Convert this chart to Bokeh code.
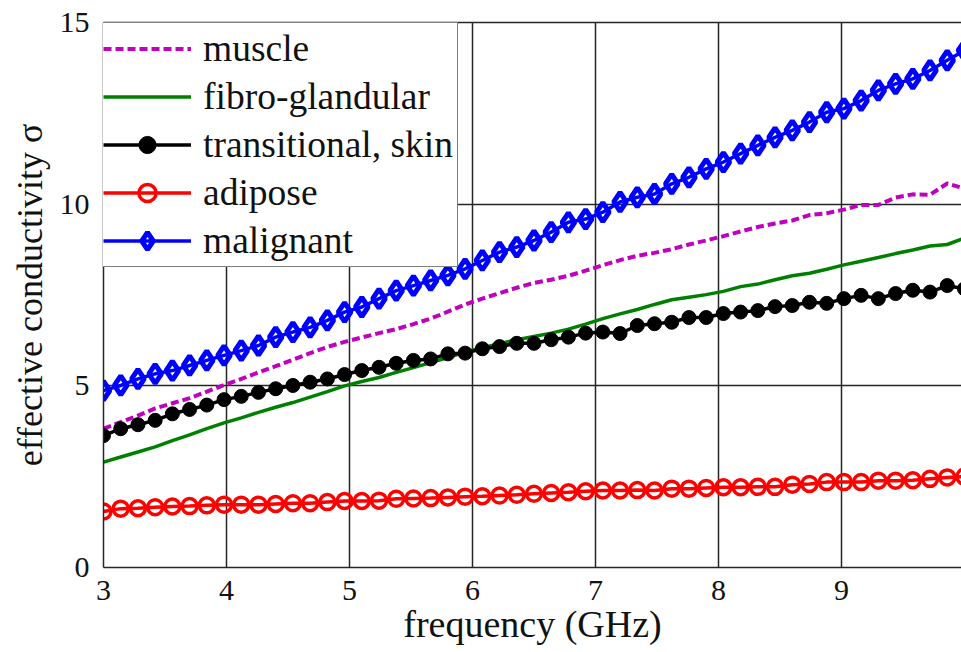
from bokeh.plotting import figure
from bokeh.models import Range1d, LinearAxis, Legend, LegendItem, FixedTicker
from bokeh.embed import file_html
from bokeh.resources import INLINE

# ---- data ----
freq = [3.00, 3.14, 3.28, 3.42, 3.56, 3.70, 3.84, 3.98, 4.12, 4.26,
        4.40, 4.54, 4.68, 4.82, 4.96, 5.10, 5.24, 5.38, 5.52, 5.66,
        5.80, 5.94, 6.08, 6.22, 6.36, 6.50, 6.64, 6.78, 6.92, 7.06,
        7.20, 7.34, 7.48, 7.62, 7.76, 7.90, 8.04, 8.18, 8.32, 8.46,
        8.60, 8.74, 8.88, 9.02, 9.16, 9.30, 9.44, 9.58, 9.72, 9.86, 10.00]

muscle = [3.82, 4.00, 4.18, 4.38, 4.52, 4.66, 4.84, 5.02, 5.19, 5.37,
          5.54, 5.72, 5.90, 6.07, 6.21, 6.33, 6.45, 6.56, 6.70, 6.85,
          7.04, 7.24, 7.40, 7.55, 7.70, 7.83, 7.92, 8.03, 8.17, 8.32,
          8.46, 8.58, 8.66, 8.76, 8.89, 9.00, 9.12, 9.25, 9.37, 9.47,
          9.55, 9.70, 9.75, 9.85, 9.98, 9.98, 10.18, 10.27, 10.26, 10.57, 10.43]

fibro = [2.90, 3.04, 3.18, 3.32, 3.49, 3.65, 3.82, 3.98, 4.12, 4.27,
         4.41, 4.54, 4.69, 4.84, 5.00, 5.12, 5.23, 5.37, 5.50, 5.64,
         5.78, 5.93, 6.05, 6.16, 6.27, 6.36, 6.45, 6.56, 6.70, 6.85,
         6.98, 7.10, 7.24, 7.37, 7.44, 7.51, 7.60, 7.73, 7.80, 7.92,
         8.03, 8.10, 8.21, 8.33, 8.43, 8.53, 8.64, 8.74, 8.85, 8.89, 9.07]

transitional = [3.63, 3.82, 3.93, 4.05, 4.23, 4.35, 4.47, 4.62, 4.71, 4.82,
                4.92, 5.01, 5.10, 5.19, 5.31, 5.42, 5.51, 5.62, 5.70, 5.74,
                5.88, 5.90, 6.02, 6.08, 6.17, 6.17, 6.27, 6.34, 6.45, 6.48,
                6.44, 6.66, 6.71, 6.75, 6.88, 6.88, 6.99, 7.03, 7.07, 7.18,
                7.21, 7.30, 7.27, 7.40, 7.49, 7.40, 7.54, 7.63, 7.58, 7.76, 7.67]

adipose = [1.54, 1.62, 1.63, 1.66, 1.68, 1.69, 1.71, 1.73, 1.73, 1.73,
           1.75, 1.77, 1.77, 1.80, 1.83, 1.83, 1.84, 1.89, 1.90, 1.91,
           1.93, 1.95, 1.96, 1.98, 2.00, 2.03, 2.05, 2.07, 2.10, 2.12,
           2.12, 2.13, 2.12, 2.17, 2.17, 2.19, 2.21, 2.21, 2.22, 2.22,
           2.28, 2.30, 2.35, 2.35, 2.35, 2.39, 2.39, 2.40, 2.44, 2.48, 2.50]

malignant = [4.87, 5.01, 5.19, 5.33, 5.42, 5.56, 5.70, 5.84, 5.97, 6.11,
             6.34, 6.48, 6.61, 6.80, 7.03, 7.17, 7.40, 7.62, 7.76, 7.90,
             8.04, 8.22, 8.45, 8.68, 8.82, 9.00, 9.23, 9.50, 9.59, 9.78,
             10.06, 10.19, 10.28, 10.56, 10.74, 10.97, 11.16, 11.39, 11.62, 11.84,
             12.03, 12.26, 12.53, 12.63, 12.85, 13.13, 13.31, 13.45, 13.68, 13.96, 14.23]

x_ticks = [3, 4, 5, 6, 7, 8, 9, 10]
y_ticks = [0, 5, 10, 15]

FONT = "Liberation Serif, Times New Roman, serif"
GRID = "#262626"

p = figure(width=961, height=652, output_backend="svg", toolbar_location=None,
           x_range=Range1d(3, 9.976), y_range=Range1d(0, 15),
           min_border_left=103, min_border_right=0, min_border_top=22,
           min_border_bottom=85)
p.background_fill_color = "white"
p.border_fill_color = "white"
p.outline_line_color = None

# grid
p.xgrid.ticker = FixedTicker(ticks=x_ticks)
p.ygrid.ticker = FixedTicker(ticks=y_ticks)
for g in (p.xgrid, p.ygrid):
    g.grid_line_color = GRID
    g.grid_line_width = 1.5

# axes
p.xaxis.ticker = FixedTicker(ticks=x_ticks)
p.yaxis.ticker = FixedTicker(ticks=y_ticks)
for ax in (p.xaxis[0], p.yaxis[0]):
    ax.axis_line_color = GRID
    ax.axis_line_width = 1.5
    ax.major_tick_line_color = None
    ax.minor_tick_line_color = None
    ax.major_label_text_font = FONT
    ax.major_label_text_font_size = "30px"
    ax.major_label_text_color = "#111111"
    ax.axis_label_text_font = FONT
    ax.axis_label_text_font_style = "normal"
    ax.axis_label_text_color = "#111111"
p.xaxis.axis_label = "frequency (GHz)"
p.yaxis.axis_label = "effective conductivity σ"
p.xaxis.axis_label_text_font_size = "38px"
p.yaxis.axis_label_text_font_size = "36px"
p.xaxis.major_label_standoff = 7
p.xaxis.axis_label_standoff = 0
p.yaxis.major_label_standoff = 8
p.yaxis.axis_label_standoff = 7
p.yaxis.major_label_orientation = "horizontal"

top = LinearAxis(ticker=FixedTicker(ticks=[]), axis_line_color=GRID, axis_line_width=1.5,
                 major_tick_line_color=None, minor_tick_line_color=None,
                 major_label_text_font_size="0px")
p.add_layout(top, "above")

# series
r_mus = p.line(freq, muscle, line_color="#BF00BF", line_width=4, line_dash="8 4")
r_fib = p.line(freq, fibro, line_color="#008000", line_width=3.5)
r_tl = p.line(freq, transitional, line_color="black", line_width=3.5)
r_ts = p.scatter(freq, transitional, marker="circle", size=14, fill_color="black",
                 line_color="black", line_width=1)
r_al = p.line(freq, adipose, line_color="#FF0000", line_width=3.5)
r_as = p.scatter(freq, adipose, marker="circle", size=15, fill_alpha=0,
                 line_color="#FF0000", line_width=3.5)
r_ml = p.line(freq, malignant, line_color="#0000FF", line_width=3.5)
r_ms = p.scatter(freq, malignant, marker="diamond", size=19, fill_alpha=0,
                 line_color="#0000FF", line_width=5)

legend = Legend(items=[
    LegendItem(label="muscle", renderers=[r_mus]),
    LegendItem(label="fibro-glandular", renderers=[r_fib]),
    LegendItem(label="transitional, skin", renderers=[r_tl, r_ts]),
    LegendItem(label="adipose", renderers=[r_al, r_as]),
    LegendItem(label="malignant", renderers=[r_ml, r_ms]),
], location=(-5, 300))
legend.label_text_font = FONT
legend.label_text_font_size = "37.5px"
legend.label_text_color = "#111111"
legend.glyph_width = 88
legend.glyph_height = 43
legend.label_height = 43
legend.label_standoff = 12
legend.spacing = 5
legend.padding = 4
legend.margin = 0
legend.border_line_color = "black"
legend.border_line_width = 1.5
legend.background_fill_color = "white"
legend.background_fill_alpha = 1.0
p.add_layout(legend, "center")

open("out.html", "w").write(file_html(p, INLINE))
